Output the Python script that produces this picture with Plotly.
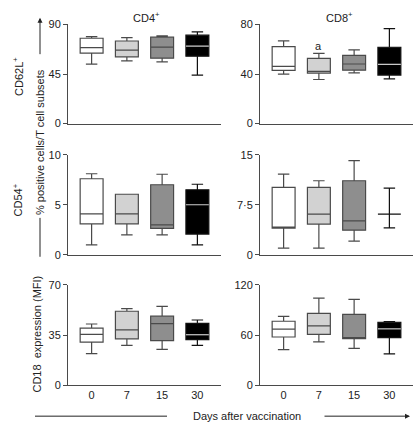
import plotly.graph_objects as go

W, H = 416, 428
days = ["0", "7", "15", "30"]
fills = ["#ffffff", "#d2d2d2", "#8e8e8e", "#000000"]

# each entry: [lower whisker, q1, median, q3, upper whisker] per day
cd4_cd62l = [[54, 64, 69, 77.5, 79], [57, 60.6, 66.8, 75, 78], [56, 59.4, 69.4, 78.5, 79.7], [44, 61.2, 70.3, 80.3, 83.2]]
cd8_cd62l = [[40, 42.9, 46.2, 62.1, 66.8], [35.6, 40.8, 42.1, 52.7, 56.6], [41, 43.1, 48.1, 55.1, 59.5], [36.1, 39.2, 47.8, 61.6, 76.6]]
cd4_cd54 = [[1.0, 3.1, 4.1, 7.6, 8.1], [2.0, 3.1, 4.1, 6.05, 6.05], [2.0, 2.65, 3.0, 7.0, 8.05], [1.0, 2.07, 5.0, 6.5, 7.05]]
cd8_cd54 = [[1.0, 4.0, 4.1, 10.1, 12.1], [1.0, 4.6, 6.1, 10.1, 11.1], [2.05, 3.7, 5.1, 11.1, 14.1], [4.05, 6.1, 6.1, 6.1, 10.0]]
cd4_cd18 = [[22, 30, 35.5, 39.8, 42.7], [27.7, 32.3, 38.6, 51.6, 53.4], [25, 31.1, 43.0, 48.2, 55], [27.7, 31.8, 35.2, 43.2, 45.5]]
cd8_cd18 = [[42.4, 57.6, 67.1, 76.5, 82.4], [51.8, 60.8, 71, 85.9, 104.3], [43.9, 55.6, 55.6, 84.7, 102.7], [37.3, 56.8, 67.4, 75.3, 76]]

panels = [cd4_cd62l, cd8_cd62l, cd4_cd54, cd8_cd54, cd4_cd18, cd8_cd18]
y_max = [90, 80, 10, 15, 70, 120]
y_ticks = [[0, 45, 90], [0, 40, 80], [0, 5, 10], [0, 7.5, 15], [0, 35, 70], [0, 60, 120]]
y_ticktext = [["0", "45", "90"], ["0", "40", "80"], ["0", "5", "10"], ["0", "7·5", "15"], ["0", "35", "70"], ["0", "60", "120"]]

FONT = "Liberation Sans, Arial, sans-serif"
TXT = "#222222"
LINE = "#4a4a4a"
BOXW = 0.65

def px_x(p):
    return p / W

def px_y(p):
    return 1 - p / H

col_dom = [[px_x(68), px_x(221)], [px_x(260), px_x(413)]]
row_dom = [[px_y(121), px_y(19)], [px_y(256), px_y(153)], [px_y(390), px_y(287)]]

fig = go.Figure()
layout = dict(
    width=W, height=H, margin=dict(l=0, r=0, t=0, b=0),
    paper_bgcolor="white", plot_bgcolor="white", showlegend=False,
    font=dict(family=FONT, size=11, color=TXT),
)

for i, data in enumerate(panels):
    r, c = divmod(i, 2)
    n = i + 1
    xa = "x" if n == 1 else f"x{n}"
    ya = "y" if n == 1 else f"y{n}"
    for k, s in enumerate(data):
        lo, q1, med, q3, hi = s
        fig.add_trace(go.Box(
            x=[k], lowerfence=[lo], q1=[q1], median=[med], q3=[q3], upperfence=[hi],
            width=BOXW, whiskerwidth=0.5, fillcolor=fills[k],
            line=dict(color="#111111" if k == 3 else LINE, width=1.2),
            boxpoints=False, hoverinfo="skip", xaxis=xa, yaxis=ya,
        ))
        if k == 3 and q3 > q1:
            fig.add_trace(go.Scatter(
                x=[k - BOXW / 2, k + BOXW / 2], y=[med, med], mode="lines",
                line=dict(color="#c8c8c8", width=1.2), hoverinfo="skip",
                xaxis=xa, yaxis=ya,
            ))
    layout[f"xaxis{'' if n == 1 else n}"] = dict(
        domain=col_dom[c], anchor=ya, range=[-0.67, 3.67],
        tickvals=[0, 1, 2, 3], ticktext=days, showticklabels=(r == 2),
        ticks="", showline=True, linecolor=LINE, linewidth=1,
        showgrid=False, zeroline=False, tickfont=dict(size=11, color=TXT),
    )
    layout[f"yaxis{'' if n == 1 else n}"] = dict(
        domain=row_dom[r], anchor=xa, range=[0, y_max[i]],
        tickvals=y_ticks[i], ticktext=y_ticktext[i],
        ticks="outside", ticklen=4, tickcolor=LINE, showline=True,
        linecolor=LINE, linewidth=1, showgrid=False, zeroline=False,
        tickfont=dict(size=11, color=TXT),
    )

ann = [
    dict(text="CD4<sup>+</sup>", x=px_x(146), y=px_y(11)),
    dict(text="CD8<sup>+</sup>", x=px_x(339), y=px_y(11)),
    dict(text="a", x=1, y=63, xref="x2", yref="y2"),
    dict(text="CD62L<sup>+</sup>", x=px_x(18), y=px_y(73), textangle=-90),
    dict(text="CD54<sup>+</sup>", x=px_x(18), y=px_y(200), textangle=-90),
    dict(text="% positive cells/T cell subsets", x=px_x(40), y=px_y(140), textangle=-90),
    dict(text="CD18  expression (MFI)", x=px_x(37), y=px_y(338), textangle=-90),
    dict(text="Days after vaccination", x=px_x(247), y=px_y(422)),
]
annotations = []
for a in ann:
    d = dict(showarrow=False, xref="paper", yref="paper", xanchor="center", yanchor="middle",
             font=dict(family=FONT, size=11, color=TXT))
    d.update(a)
    annotations.append(d)
# arrows
annotations.append(dict(x=px_x(40), y=px_y(12), xref="paper", yref="paper", ax=0, ay=38,
                        text="", showarrow=True, arrowhead=2, arrowsize=1, arrowwidth=1, arrowcolor="#222"))
annotations.append(dict(x=px_x(410), y=px_y(422), xref="paper", yref="paper", ax=-87, ay=0,
                        text="", showarrow=True, arrowhead=2, arrowsize=1, arrowwidth=1, arrowcolor="#222"))
layout["annotations"] = annotations
layout["shapes"] = [
    dict(type="line", xref="paper", yref="paper", x0=px_x(40), x1=px_x(40), y0=px_y(218), y1=px_y(258),
         line=dict(color="#222", width=1)),
    dict(type="line", xref="paper", yref="paper", x0=px_x(35), x1=px_x(167), y0=px_y(422), y1=px_y(422),
         line=dict(color="#222", width=1)),
]
fig.update_layout(**layout)
fig.write_html("out.html", config={"displayModeBar": False},
               post_script="document.body.style.margin='0';document.body.style.overflow='hidden';")
